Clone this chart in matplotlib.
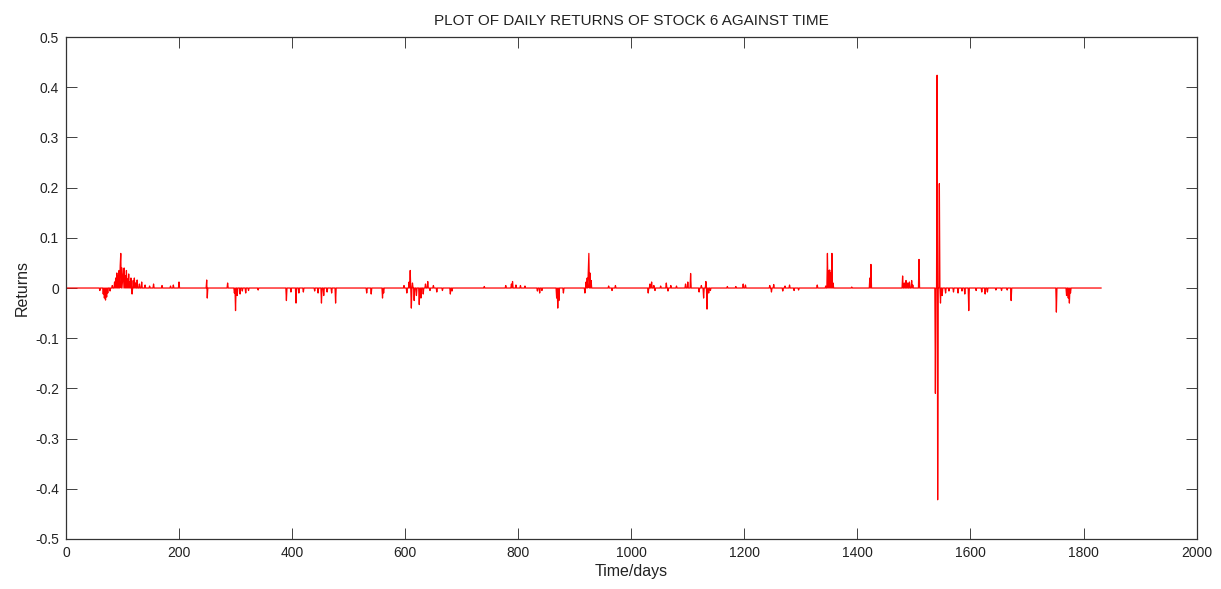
import matplotlib
matplotlib.use("Agg")
import matplotlib.pyplot as plt
import numpy as np

# number of trading days in the series
n_days = 1831

# days where the return is not zero, and the return on that day
spike_days = [
    60, 66, 68, 70, 72, 74, 78, 82, 86, 88, 90, 92, 94, 96, 97, 99, 100, 102, 103, 105,
    107, 109, 111, 113, 115, 117, 119, 121, 123, 126, 130, 134, 140, 148, 155, 170, 185,
    190, 200, 249, 250, 286, 298, 300, 303, 308, 312, 318, 323, 340, 390, 398, 407, 412,
    420, 440, 446, 452, 456, 462, 470, 477,
    532, 540, 560, 562, 598, 603, 607, 609, 611, 613, 616, 620, 625, 628, 632, 636, 640,
    644, 650, 656, 666, 680, 683, 740, 778, 788, 790, 796, 804, 812, 834, 838, 842, 868,
    870, 872, 880, 918, 920, 922, 924, 925, 927, 929, 960, 966, 972,
    1030, 1033, 1036, 1040, 1042, 1052, 1062, 1065, 1070, 1080, 1096, 1100, 1105, 1120,
    1124, 1128, 1132, 1134, 1137, 1140, 1170, 1185, 1198, 1202, 1245, 1248, 1252, 1268,
    1272, 1280, 1288, 1296, 1329, 1344, 1347, 1349, 1351, 1353, 1355, 1357, 1390, 1422,
    1424, 1480, 1483, 1486, 1489, 1492, 1496, 1498, 1509, 1538, 1541, 1542, 1545, 1547,
    1550, 1556, 1562, 1570, 1578, 1585, 1590, 1597, 1610, 1620, 1626, 1630, 1645, 1655,
    1665, 1672, 1752, 1770, 1773, 1775, 1777,
]
spike_vals = [
    -0.005, -0.012, -0.02, -0.024, -0.018, -0.01, -0.006, 0.005, 0.012, 0.02, 0.03, 0.025,
    0.035, 0.045, 0.069, 0.04, 0.02, 0.03, 0.04, 0.025, 0.035, 0.018, 0.028, 0.012, 0.02,
    -0.012, 0.015, 0.02, 0.01, 0.016, 0.008, 0.012, 0.006, 0.004, 0.008, 0.005, 0.004,
    0.006, 0.012, 0.016, -0.02, 0.01, -0.01, -0.045, -0.015, -0.012, -0.006, -0.01, -0.005,
    -0.004, -0.025, -0.008, -0.03, -0.01, -0.008, -0.006, -0.01, -0.03, -0.015, -0.008,
    -0.01, -0.03,
    -0.01, -0.012, -0.02, -0.01, 0.005, -0.01, 0.012, 0.035, -0.04, 0.01, -0.025, -0.015,
    -0.033, -0.02, -0.012, 0.008, 0.013, -0.005, 0.005, -0.008, -0.005, -0.012, -0.006,
    0.003, 0.005, 0.008, 0.013, 0.006, 0.005, 0.004, -0.006, -0.01, -0.005, -0.02, -0.04,
    -0.025, -0.01, -0.01, 0.012, 0.02, 0.035, 0.069, 0.03, 0.015, 0.004, -0.005, 0.005,
    -0.01, 0.008, 0.012, 0.005, -0.005, 0.004, 0.01, -0.006, 0.005, 0.004, 0.008, 0.012,
    0.029, -0.008, 0.005, -0.02, 0.013, -0.042, -0.01, -0.005, 0.003, 0.003, 0.008, 0.006,
    0.005, -0.008, 0.007, -0.006, 0.004, 0.006, -0.005, -0.004, 0.006, 0.004, 0.069, 0.035,
    0.036, 0.03, 0.069, 0.01, 0.002, 0.02, 0.047, 0.024, 0.01, 0.015, 0.01, 0.012, 0.015,
    0.006, 0.057, -0.21, 0.424, -0.422, 0.208, -0.03, -0.015, -0.01, -0.006, -0.008, -0.01,
    -0.006, -0.012, -0.045, -0.005, -0.008, -0.012, -0.008, -0.004, -0.005, -0.004, -0.025,
    -0.048, -0.015, -0.02, -0.03, -0.01,
]

x_ticks = [0, 200, 400, 600, 800, 1000, 1200, 1400, 1600, 1800, 2000]
y_ticks = [-0.5, -0.4, -0.3, -0.2, -0.1, 0, 0.1, 0.2, 0.3, 0.4, 0.5]
y_tick_labels = ["-0.5", "-0.4", "-0.3", "-0.2", "-0.1", "0", "0.1", "0.2", "0.3", "0.4", "0.5"]

days = np.arange(1, n_days + 1)
returns = np.zeros(n_days)
returns[np.array(spike_days) - 1] = spike_vals

plt.rcParams['font.family'] = ['Liberation Sans', 'DejaVu Sans']

fig = plt.figure(figsize=(12.21, 5.89), dpi=100)
ax = fig.add_axes([0.054, 0.085, 0.926, 0.852])
ax.plot(days, returns, color='red', lw=0.9)

ax.set_xlim(0, 2000)
ax.set_ylim(-0.5, 0.5)
ax.set_xticks(x_ticks)
ax.set_yticks(y_ticks)
ax.set_yticklabels(y_tick_labels)
ax.tick_params(direction='in', length=8, width=0.6, top=True, right=True,
               labelsize=10, colors='#222222', pad=5)
for s in ax.spines.values():
    s.set_linewidth(0.9)
    s.set_color('#333333')

ax.set_title('PLOT OF DAILY RETURNS OF STOCK 6 AGAINST TIME', fontsize=11, pad=9, color='#222222')
ax.set_xlabel('Time/days', fontsize=11.5, labelpad=3, color='#222222')
ax.set_ylabel('Returns', fontsize=11.5, labelpad=4, color='#222222')

fig.savefig('out.png', dpi=100)
